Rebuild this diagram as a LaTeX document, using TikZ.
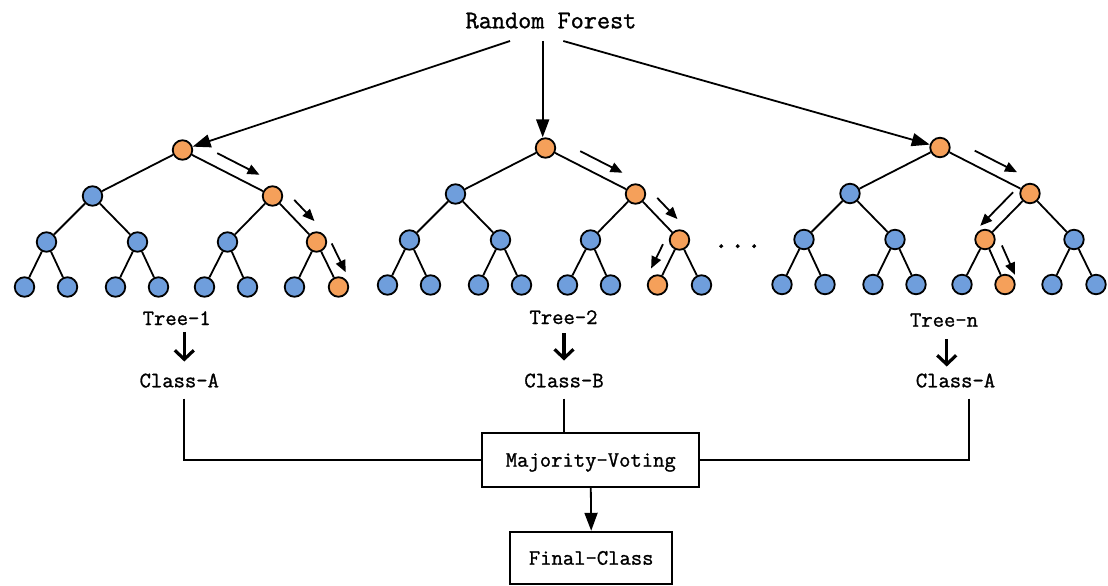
\documentclass[tikz,border=0pt]{standalone}
\usepackage{fontspec}
\newfontfamily\mono{Latin Modern Mono}[FakeBold=1.2]
\usetikzlibrary{arrows.meta,calc}
\definecolor{orng}{HTML}{F5A05A}
\definecolor{blu}{HTML}{6F9EDC}
\tikzset{
  tn/.style={circle, draw=black, line width=1.8pt, fill=blu, minimum size=19.5pt, inner sep=0pt},
  edge/.style={line width=1.8pt},
  hint/.style={line width=1.8pt, -{Triangle[length=12pt,width=10pt]}},
  mainarrow/.style={line width=1.8pt, -{Triangle[length=18pt,width=13pt]}},
  downarrow/.style={line width=3.2pt, -{Straight Barb[length=9pt,width=19pt,line width=3.2pt]}},
  conn/.style={line width=1.8pt},
  lbl/.style={font=\fontsize{22}{24}\selectfont\mono, inner sep=0pt, anchor=base, text height=14pt, text depth=0pt},
  boxnode/.style={draw, line width=1.8pt, inner sep=0pt, font=\fontsize{22}{24}\selectfont\mono, text height=15.4pt, text depth=2pt},
  taR/.style={fill=orng}, taRR/.style={fill=orng}, taRRR/.style={fill=orng}, ta0/.style={fill=orng},
  tb0/.style={fill=orng}, tbR/.style={fill=orng}, tbRR/.style={fill=orng}, tbRRL/.style={fill=orng},
  tc0/.style={fill=orng}, tcR/.style={fill=orng}, tcRL/.style={fill=orng}, tcRLR/.style={fill=orng},
}
\newcommand\drawtree[3]{%
  \begin{scope}[shift={(#2,#3)}]
    \foreach \n/\x/\y in {0/0/0, L/-90/46, R/90/46,
        LL/-136/92, LR/-45/92, RL/45/92, RR/134/92,
        LLL/-158/137, LLR/-115/137, LRL/-67/137, LRR/-24/137,
        RLL/22/137, RLR/65/137, RRL/112/137, RRR/156/137}
      \node[tn, #1\n/.try] (#1\n) at (\x,\y) {};
  \end{scope}
  \foreach \p/\c in {0/L, 0/R, L/LL, L/LR, R/RL, R/RR, LL/LLL, LL/LLR, LR/LRL, LR/LRR,
      RL/RLL, RL/RLR, RR/RRL, RR/RRR}
    \draw[edge] (#1\p) -- (#1\c);
}
% hint arrow: #1 from node, #2 to node, #3 start fraction, #4 end fraction, #5 side angle
\newcommand\hintarrow[5]{%
  \draw[hint] ($(#1)!#3!(#2)!13pt!#5:(#2)$) -- ($(#1)!#4!(#2)!13pt!#5:(#2)$);
}
\begin{document}
\begin{tikzpicture}[x=1pt, y=-1pt]
  \useasboundingbox (0,0) rectangle (1108,586);

  % title
  \node[font=\fontsize{25.5}{28}\selectfont\mono, inner sep=0pt, anchor=base] (rf) at (551,28.3) {Random Forest};
  \coordinate (rf1) at (510,41);
  \coordinate (rf2) at (542.7,41);
  \coordinate (rf3) at (563.3,41);

  % trees
  \drawtree{ta}{182.5}{150}
  \drawtree{tb}{545.5}{148}
  \drawtree{tc}{940}{147.5}

  % arrows from title
  \draw[mainarrow] (rf1) -- (ta0);
  \draw[mainarrow] (rf2) -- (rf2 |- tb0.north);
  \draw[mainarrow] (rf3) -- (tc0);

  % path hints
  \hintarrow{ta0}{taR}{0.32}{0.79}{90}
  \hintarrow{taR}{taRR}{0.28}{0.74}{90}
  \hintarrow{taRR}{taRRR}{0.16}{0.8}{90}

  \hintarrow{tb0}{tbR}{0.32}{0.79}{90}
  \hintarrow{tbR}{tbRR}{0.28}{0.74}{90}
  \hintarrow{tbRR}{tbRRL}{0.22}{0.76}{-90}

  \hintarrow{tc0}{tcR}{0.32}{0.79}{90}
  \hintarrow{tcR}{tcRL}{0.17}{0.9}{-90}
  \hintarrow{tcRL}{tcRLR}{0.25}{0.9}{90}

  % ellipsis
  \node[font=\fontsize{32}{34}\selectfont\mono, inner sep=0pt, anchor=base] (dots) at (737.7,248) {...};

  % labels
  \node[lbl] (t1) at (176.7,325) {Tree-1};
  \node[lbl] (t2) at (563.5,324) {Tree-2};
  \node[lbl] (t3) at (944,326.7) {Tree-n};
  \node[lbl] (c1) at (179.3,387.3) {Class-A};
  \node[lbl] (c2) at (564,387.3) {Class-B};
  \node[lbl] (c3) at (955.5,387.3) {Class-A};

  \draw[downarrow] ([xshift=7.6pt,yshift=-6.7pt]t1.south) -- ([xshift=5pt,yshift=11.6pt]c1.north);
  \draw[downarrow] ([xshift=0.5pt,yshift=-9pt]t2.south) -- ([yshift=12.6pt]c2.north);
  \draw[downarrow] ([xshift=2.7pt,yshift=-12.3pt]t3.south) -- ([xshift=-8.8pt,yshift=6.6pt]c3.north);

  % voting
  \node[boxnode, minimum width=217pt, minimum height=53.4pt] (mv) at (590.8,460) {Majority-Voting};
  \node[boxnode, minimum width=162.3pt, minimum height=52.6pt] (fc) at (591.2,558) {Final-Class};

  \draw[conn] ([xshift=4.7pt,yshift=-11pt]c1.south) |- (mv.west);
  \draw[conn] ([yshift=-11pt]c2.south) -- (c2.south |- mv.north);
  \draw[conn] ([xshift=13.8pt,yshift=-11pt]c3.south) |- (mv.east);
  \draw[mainarrow] (mv.south) -- (fc.north);
\end{tikzpicture}
\end{document}
